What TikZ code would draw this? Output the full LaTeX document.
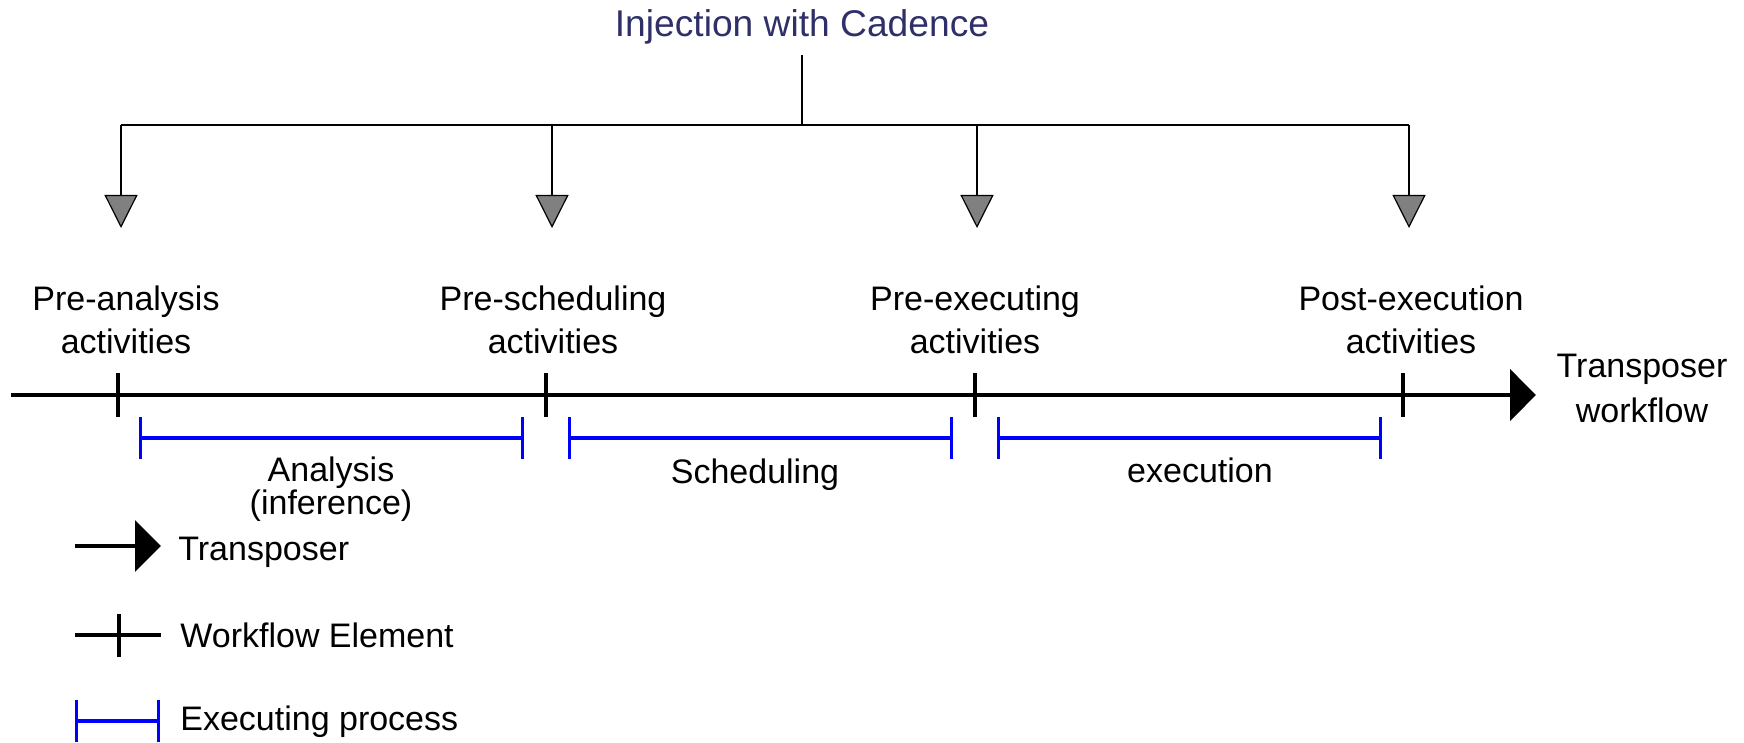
\documentclass[tikz,border=0pt]{standalone}
\usepackage{fontspec}
\setmainfont{Liberation Sans}
\usetikzlibrary{arrows.meta}
\definecolor{headnavy}{HTML}{2F3068}
\definecolor{procblue}{RGB}{0,0,255}
\newcommand{\tightlines}{\fontsize{17}{16.3}\selectfont\lineskiplimit=-30pt\relax}
\tikzset{
  lbl/.style={font=\fontsize{17}{21.5}\selectfont, align=center, inner sep=0pt, anchor=base},
  legtext/.style={font=\fontsize{17}{20}\selectfont, inner sep=0pt, anchor=base west},
  bus/.style={line width=1.1pt},
  drop/.style={line width=1.1pt, -{Triangle[length=16.5pt,width=16.5pt,fill=gray,line width=0.6pt]}},
  flow/.style={line width=2.2pt, -{Triangle[length=13pt,width=25.5pt]}},
  wtick/.style={line width=1.8pt},
  proc/.style={draw=procblue, line width=1.7pt, {Bar[width=21pt]}-{Bar[width=21pt]}},
}
\begin{document}
\begin{tikzpicture}[x=0.5pt,y=-0.5pt]
\useasboundingbox (0,0) rectangle (1744,743);

% injection source and distribution bus
\node[font=\fontsize{18.6}{22}\selectfont, text=headnavy, inner sep=0pt, anchor=base] (title) at (802,37) {Injection with Cadence};
\coordinate (hub) at (802,125);
\coordinate (b1) at (121,125);
\coordinate (b2) at (552,125);
\coordinate (b3) at (977,125);
\coordinate (b4) at (1409,125);
\coordinate (p1) at (121,228);
\coordinate (p2) at (552,228);
\coordinate (p3) at (977,228);
\coordinate (p4) at (1409,228);
\draw[bus] ([yshift=-5pt]title.south) -- (hub);
\draw[bus] (b1) -- (b4);
\foreach \i in {1,...,4}{\draw[drop] (b\i) -- (p\i);}

% workflow axis with its elements
\coordinate (ws) at (11,395);
\coordinate (we) at (1536,395);
\draw[flow] (ws) -- (we);
\foreach \x in {118,546,975,1403}{\draw[wtick] (\x,373) -- (\x,417);}

% the base of a two-line label is the baseline of its last line
\node[lbl] (pa) at (126,353) {Pre-analysis\\activities};
\node[lbl] (ps) at (553,353) {Pre-scheduling\\activities};
\node[lbl] (pe) at (975,353) {Pre-executing\\activities};
\node[lbl] (po) at (1411,353) {Post-execution\\activities};
\node[lbl, font=\fontsize{17}{22.5}\selectfont] (tw) at (1642,422) {Transposer\\workflow};

% executing processes
\coordinate (a1) at (139,438);  \coordinate (a2) at (524,438);
\coordinate (s1) at (568,438);  \coordinate (s2) at (953,438);
\coordinate (e1) at (997,438);  \coordinate (e2) at (1382,438);
\draw[proc] (a1) -- (a2);
\draw[proc] (s1) -- (s2);
\draw[proc] (e1) -- (e2);
\node[lbl, font=\tightlines] (an) at (331,514) {Analysis\\(inference)};
\node[lbl] (sc) at (755,483) {Scheduling};
\node[lbl] (ex) at (1200,482) {execution};

% legend
\coordinate (l1a) at (75,546);  \coordinate (l1b) at (161,546);
\coordinate (l2a) at (75,635);  \coordinate (l2b) at (161,635);
\coordinate (l3a) at (75,721);  \coordinate (l3b) at (160,721);
\draw[flow, line width=2pt] (l1a) -- (l1b);
\node[legtext] (lt1) at (178,560) {Transposer};
\draw[line width=2pt] (l2a) -- (l2b);
\draw[wtick] (119,614) -- (119,657);
\node[legtext] (lt2) at (180,647) {Workflow Element};
\draw[proc] (l3a) -- (l3b);
\node[legtext] (lt3) at (180,730) {Executing process};
\end{tikzpicture}
\end{document}
